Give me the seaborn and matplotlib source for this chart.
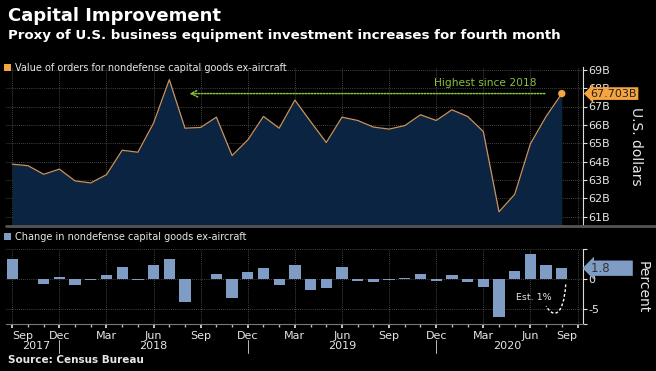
import numpy as np
import pandas as pd
import matplotlib
matplotlib.use("Agg")
import matplotlib.pyplot as plt
import seaborn as sns
from matplotlib.patches import Patch, PathPatch
from matplotlib.path import Path
from matplotlib.lines import Line2D
from matplotlib.transforms import blended_transform_factory as btf

# ---------------- data ----------------
months = pd.date_range("2017-09-01", "2020-08-01", freq="MS")  # 36 months
order_values = [63.86, 63.78, 63.31, 63.59, 62.95, 62.84, 63.29, 64.62, 64.51, 66.10,
                68.46, 65.82, 65.86, 66.42, 64.33, 65.18, 66.46, 65.82, 67.35, 66.18,
                65.04, 66.42, 66.24, 65.88, 65.77, 65.96, 66.55, 66.24, 66.82, 66.46,
                65.64, 61.27, 62.22, 64.97, 66.46, 67.703]
pct_change = [3.4, 0.05, -0.8, 0.4, -1.0, -0.2, 0.7, 2.0, -0.2, 2.3,
              3.4, -3.9, 0.05, 0.9, -3.1, 1.25, 1.9, -1.0, 2.3, -1.85,
              -1.5, 2.0, -0.4, -0.55, -0.2, 0.2, 0.9, -0.4, 0.7, -0.55,
              -1.25, -6.4, 1.35, 4.1, 2.3, 1.8]
month_tick_labels = ["Sep", "Dec", "Mar", "Jun", "Sep", "Dec", "Mar", "Jun",
                     "Sep", "Dec", "Mar", "Jun", "Sep"]
year_labels = ["2017", "2018", "2019", "2020"]
value_ticks = [61, 62, 63, 64, 65, 66, 67, 68, 69]
value_tick_labels = [f"{v}B" for v in value_ticks]
pct_ticks = [-7.5, -5, 0, 5]
pct_tick_labels = ["", "-5", "0", ""]

df = pd.DataFrame({"idx": np.arange(len(months)), "month": months,
                   "value": order_values, "pct": pct_change})

# ---------------- style ----------------
sns.set_theme(style="dark")
plt.rcParams["font.family"] = ["DejaVu Sans"]
BG = "black"
FILL = "#0b2442"
LINE = "#c9935c"
ORANGE = "#f6a43f"
BAR = "#7f9cc4"
GREEN = "#86c23c"
GRID = "#5a5a5a"
TXT = "#e6e6e6"

W, H = 656, 371
fig = plt.figure(figsize=(W / 100, H / 100), dpi=100, facecolor=BG)

def rect(l, t, r, b):
    return [l / W, 1 - b / H, (r - l) / W, (b - t) / H]

ax1 = fig.add_axes(rect(6, 67, 583, 225))
ax2 = fig.add_axes(rect(6, 249, 583, 324))
xlim = (-0.4, 36.35)
major_x = np.arange(0, 37, 3)

for ax in (ax1, ax2):
    ax.set_facecolor(BG)
    for s in ("top", "left", "bottom"):
        ax.spines[s].set_visible(False)
    ax.spines["right"].set_color("#dddddd")
    ax.spines["right"].set_linewidth(0.8)
    ax.yaxis.tick_right()
    ax.set_xlim(*xlim)
    ax.set_xticks(major_x)
    ax.set_xticks(np.arange(0, 37, 1), minor=True)
    ax.grid(True, which="major", color=GRID, linestyle=(0, (1, 1.5)), linewidth=0.6)
    ax.tick_params(axis="y", which="both", right=True, length=3, width=0.8,
                   color="#dddddd", labelcolor=TXT, labelsize=8, pad=1)

# ---------------- top panel ----------------
ylo = 60.55
ax1.set_ylim(ylo, 69.15)
ax1.fill_between(df["idx"], df["value"], ylo, color=FILL, linewidth=0, zorder=1)
sns.lineplot(data=df, x="idx", y="value", ax=ax1, color=LINE, linewidth=0.9, zorder=3)
sns.scatterplot(data=df.tail(1), x="idx", y="value", ax=ax1, color=ORANGE, s=28,
                edgecolor="none", zorder=4)
ax1.set_xlim(*xlim)
ax1.set_yticks(value_ticks)
ax1.set_yticklabels(value_tick_labels)
ax1.tick_params(axis="x", which="both", length=0, labelbottom=False)
ax1.set_xlabel("")
ax1.set_ylabel("")

last_val = order_values[-1]
peak_idx = int(np.argmax(order_values))
ax1.annotate("", xy=(peak_idx + 1.1, last_val), xytext=(len(order_values) - 1.9, last_val),
             arrowprops=dict(arrowstyle="->", color=GREEN, lw=1.1, linestyle=(0, (1, 1))),
             zorder=5)
ax1.text(30.1, last_val + 0.55, "Highest since 2018", color=GREEN, fontsize=7.7,
         ha="center", va="center")
ax1.text(1.013, last_val, f"{last_val:.3f}B", transform=btf(ax1.transAxes, ax1.transData),
         color="#222222", fontsize=8, va="center", ha="left", clip_on=False, zorder=6,
         bbox=dict(boxstyle="larrow,pad=0.12", fc=ORANGE, ec="none"))

ax1.legend(handles=[Patch(facecolor=ORANGE, edgecolor="none",
                          label="Value of orders for nondefense capital goods ex-aircraft")],
           loc="lower left", bbox_to_anchor=(-0.003, 0.965), frameon=False, fontsize=7,
           labelcolor=TXT, handlelength=0.7, handleheight=0.7, handletextpad=0.4,
           borderaxespad=0, borderpad=0)

# ---------------- bottom panel ----------------
sns.barplot(data=df, x="idx", y="pct", ax=ax2, native_scale=True, color=BAR,
            saturation=1, width=0.72, zorder=3, edgecolor="none", linewidth=0)
ax2.set_xlim(*xlim)
ax2.set_ylim(-7.5, 5)
ax2.set_yticks(pct_ticks)
ax2.set_yticklabels(pct_tick_labels)
ax2.yaxis.grid(False)
for yv in (5, 0, -5):
    ax2.axhline(yv, color=GRID, linestyle=(0, (1, 1.5)), linewidth=0.6, zorder=1)
ax2.set_xticks(major_x)
ax2.set_xticklabels(month_tick_labels)
xt = ax2.get_xticklabels()
xt[0].set_horizontalalignment("left")
xt[0].set_x(-0.45)
xt[-1].set_horizontalalignment("right")
ax2.set_xlabel("")
ax2.set_ylabel("")
ax2.spines["bottom"].set_visible(True)
ax2.spines["bottom"].set_color("#777777")
ax2.spines["bottom"].set_linewidth(0.8)
ax2.tick_params(axis="x", which="major", bottom=True, length=3, color="#dddddd",
                labelcolor=TXT, labelsize=8, pad=2)
ax2.tick_params(axis="x", which="minor", bottom=True, length=2, color="#bbbbbb")

# year labels and separators
trans = btf(ax2.transData, ax2.transAxes)
seg_edges = [0, 3, 15, 27, 36]
for i, yl in enumerate(year_labels):
    ax2.text((seg_edges[i] + seg_edges[i + 1]) / 2, -0.29, yl, transform=trans,
             color=TXT, fontsize=8, ha="center", va="center", clip_on=False)
for e in seg_edges[1:-1]:
    ax2.add_line(Line2D([e, e], [-0.21, -0.38], transform=trans, color="#bbbbbb",
                        lw=0.7, clip_on=False))

last_pct = pct_change[-1]
ax2.text(1.013, last_pct, f"{last_pct}      ", transform=btf(ax2.transAxes, ax2.transData),
         color="#333333", fontsize=8.5, va="center", ha="left", clip_on=False, zorder=6,
         bbox=dict(boxstyle="larrow,pad=0.1", fc=BAR, ec="none"))

# Est. 1% annotation
ax2.text(33.2, -3.0, "Est. 1%", color=TXT, fontsize=6.8, ha="center", va="center")
hook = Path([(35.25, -0.9), (35.1, -6.6), (34.4, -6.4), (34.0, -4.5)],
            [Path.MOVETO, Path.CURVE4, Path.CURVE4, Path.CURVE4])
ax2.add_patch(PathPatch(hook, fc="none", ec="white", lw=1, linestyle=(0, (2, 1.5)),
                        zorder=5))

ax2.legend(handles=[Patch(facecolor=BAR, edgecolor="none",
                          label="Change in nondefense capital goods ex-aircraft")],
           loc="lower left", bbox_to_anchor=(-0.003, 1.1), frameon=False, fontsize=7,
           labelcolor=TXT, handlelength=0.7, handleheight=0.7, handletextpad=0.4,
           borderaxespad=0, borderpad=0)

# ---------------- figure texts ----------------
fig.add_artist(Line2D([6 / W, 1], [1 - 226 / H, 1 - 226 / H], color="#555555", lw=2))
fig.text(8 / W, 1 - 16 / H, "Capital Improvement", color="white", fontsize=13,
         fontweight="bold", va="center", ha="left")
fig.text(8 / W, 1 - 36 / H, "Proxy of U.S. business equipment investment increases for fourth month",
         color="white", fontsize=9.6, fontweight="bold", va="center", ha="left")
fig.text(636 / W, 1 - 146 / H, "U.S. dollars", color=TXT, fontsize=10, rotation=270,
         va="center", ha="center")
fig.text(643 / W, 1 - 287 / H, "Percent", color=TXT, fontsize=10, rotation=270,
         va="center", ha="center")
fig.text(8 / W, 1 - 360 / H, "Source: Census Bureau", color=TXT, fontsize=7.5,
         fontweight="bold", va="center", ha="left")

fig.savefig("out.png", dpi=100, facecolor=BG)
